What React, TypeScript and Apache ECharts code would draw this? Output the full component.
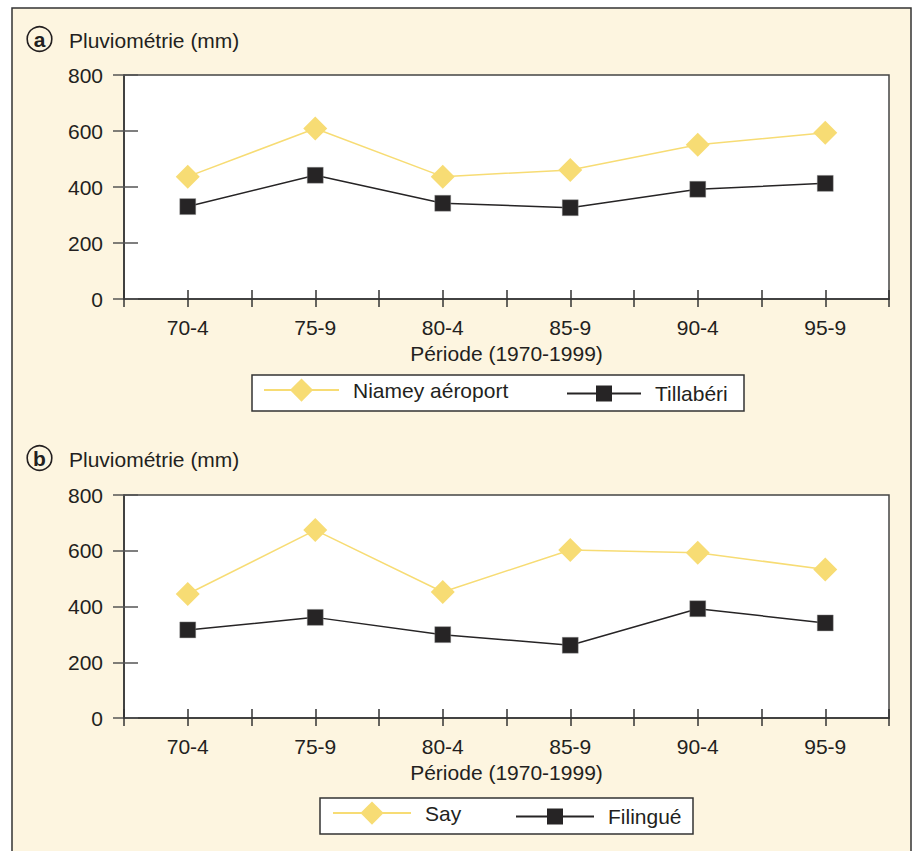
import React, { useEffect, useRef } from "react";
import * as echarts from "echarts";

const periods = ["70-4", "75-9", "80-4", "85-9", "90-4", "95-9"];
const niamey = [437, 609, 437, 461, 551, 594];
const tillaberi = [330, 442, 342, 326, 392, 413];
const say = [445, 674, 452, 603, 593, 533];
const filingue = [316, 361, 299, 261, 392, 341];
const yTicks = [0, 200, 400, 600, 800];

const FONT = "'Liberation Sans', Arial, Helvetica, sans-serif";
const TXT = "#231f20";
const YELLOW = "#f7dc74";
const BLACK = "#262425";
const FS = 21;

export default function App() {
  const ref = useRef<HTMLDivElement>(null);
  useEffect(() => {
    document.body.style.margin = "0";
    const chart = echarts.init(ref.current!, undefined, { renderer: "svg" });
    const grids = [
      { left: 124, top: 75, right: 27, height: 224 },
      { left: 124, top: 495, right: 27, height: 223 },
    ];
    const xAxes: any[] = [];
    const yAxes: any[] = [];
    grids.forEach((_, gi) => {
      const base = {
        type: "value",
        gridIndex: gi,
        min: -0.5,
        max: 5.5,
        interval: 0.5,
        position: "bottom",
        splitLine: { show: false },
      };
      xAxes.push({
        ...base,
        axisLine: { show: true, onZero: false, lineStyle: { color: "#333", width: 1.5 } },
        axisTick: { show: true, inside: false, length: 8, lineStyle: { color: "#333", width: 1.5 } },
        axisLabel: {
          show: true,
          margin: 18,
          color: TXT,
          fontFamily: FONT,
          fontSize: FS,
          showMinLabel: true,
          showMaxLabel: true,
          formatter: (v: number) => {
            const r = Math.round(v);
            return Math.abs(v - r) < 1e-6 && r >= 0 && r < periods.length ? periods[r] : "";
          },
        },
        name: "Période (1970-1999)",
        nameLocation: "middle",
        nameGap: 44,
        nameTextStyle: { color: TXT, fontFamily: FONT, fontSize: FS },
      });
      xAxes.push({
        ...base,
        axisLine: { show: false, onZero: false },
        axisTick: { show: true, inside: true, length: 9, lineStyle: { color: "#333", width: 1.5 } },
        axisLabel: { show: false },
      });
      const ybase = {
        type: "value",
        gridIndex: gi,
        min: yTicks[0],
        max: yTicks[yTicks.length - 1],
        interval: 200,
        position: "left",
        splitLine: { show: false },
      };
      yAxes.push({
        ...ybase,
        axisLine: { show: true, onZero: false, lineStyle: { color: "#333", width: 1.5 } },
        axisTick: { show: true, inside: false, length: 11, lineStyle: { color: "#555", width: 1.5 } },
        axisLabel: { show: true, margin: 21, color: TXT, fontFamily: FONT, fontSize: FS },
      });
      yAxes.push({
        ...ybase,
        axisLine: { show: false, onZero: false },
        axisTick: { show: true, inside: true, length: 14, lineStyle: { color: "#555", width: 1.5 } },
        axisLabel: { show: false },
      });
    });

    const mk = (name: string, vals: number[], gi: number, yellow: boolean) => ({
      name,
      type: "line",
      xAxisIndex: gi * 2,
      yAxisIndex: gi * 2,
      data: vals.map((v, i) => [i, v]),
      symbol: yellow ? "diamond" : "rect",
      symbolSize: yellow ? 24 : 16,
      lineStyle: { color: yellow ? YELLOW : BLACK, width: 1.5 },
      itemStyle: yellow
        ? { color: YELLOW }
        : { color: BLACK, borderColor: "#999", borderWidth: 0.4 },
      z: yellow ? 3 : 4,
    });

    const legendBase = {
      orient: "horizontal",
      padding: 0,
      textStyle: { color: TXT, fontFamily: FONT, fontSize: FS, padding: [6, 0, 0, 9] },
      itemStyle: { borderWidth: 0 },
      selectedMode: false,
    };

    const title = (letter: string, cy: number) => [
      {
        type: "circle",
        shape: { cx: 39.5, cy, r: 12.3 },
        style: { fill: "none", stroke: TXT, lineWidth: 1.6 },
        z: 5,
      },
      {
        type: "text",
        x: 39.5,
        y: cy + 0.5,
        style: {
          text: letter,
          fill: TXT,
          font: `bold 21px ${FONT}`,
          align: "center",
          verticalAlign: "middle",
        },
        z: 5,
      },
      {
        type: "text",
        x: 69,
        y: cy + 1,
        style: {
          text: "Pluviométrie (mm)",
          fill: TXT,
          font: `${FS}px ${FONT}`,
          align: "left",
          verticalAlign: "middle",
        },
        z: 5,
      },
    ];

    chart.setOption({
      animation: false,
      backgroundColor: "#ffffff",
      grid: grids.map((g) => ({
        ...g,
        show: true,
        backgroundColor: "#ffffff",
        borderColor: "#444",
        borderWidth: 1.5,
      })),
      xAxis: xAxes,
      yAxis: yAxes,
      legend: [
        { ...legendBase, data: ["Niamey aéroport"], left: 263, top: 378.5, itemWidth: 75, itemHeight: 29 },
        { ...legendBase, data: ["Tillabéri"], left: 566, top: 383, itemWidth: 74, itemHeight: 20 },
        { ...legendBase, data: ["Say"], left: 332, top: 801.5, itemWidth: 78, itemHeight: 29 },
        { ...legendBase, data: ["Filingué"], left: 515, top: 806, itemWidth: 78, itemHeight: 20 },
      ],
      graphic: [
        {
          type: "rect",
          shape: { x: 12, y: 8, width: 899, height: 870 },
          style: { fill: "#fdf5e0", stroke: "#333", lineWidth: 1.5 },
          z: -10,
        },
        {
          type: "rect",
          shape: { x: 252, y: 375, width: 492, height: 36 },
          style: { fill: "#ffffff", stroke: "#333", lineWidth: 1.5 },
          z: 1,
        },
        {
          type: "rect",
          shape: { x: 320, y: 798, width: 373, height: 36 },
          style: { fill: "#ffffff", stroke: "#333", lineWidth: 1.5 },
          z: 1,
        },
        ...title("a", 39),
        ...title("b", 458),
      ],
      series: [
        mk("Niamey aéroport", niamey, 0, true),
        mk("Tillabéri", tillaberi, 0, false),
        mk("Say", say, 1, true),
        mk("Filingué", filingue, 1, false),
      ],
    });
    return () => chart.dispose();
  }, []);
  return <div ref={ref} style={{ width: 916, height: 851 }} />;
}
